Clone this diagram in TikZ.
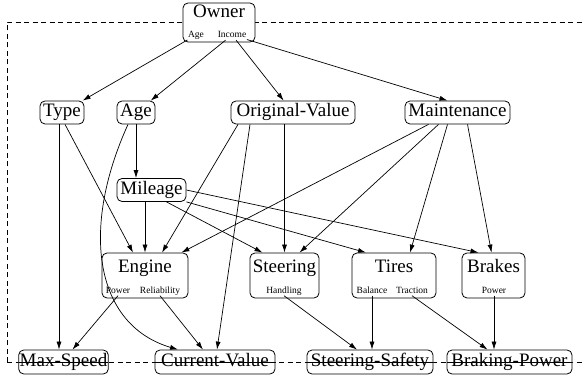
\documentclass[tikz,border=0pt]{standalone}
\usepackage{fontspec}
\setmainfont{Liberation Serif}
\usetikzlibrary{arrows.meta}
\newcommand\bigf{\fontsize{19}{22}\selectfont}
\newcommand\subf{\fontsize{9.5}{11}\selectfont}
\tikzset{
  box/.style={draw, rounded corners=5pt, fill=white, line width=0.8pt},
  var/.style={box, font=\bigf, text height=13pt, text depth=4pt, inner xsep=1pt, inner ysep=3pt, minimum height=23pt},
  dvar/.style={box, minimum height=45pt},
  ttl/.style={font=\bigf, text height=13pt, text depth=4pt, inner sep=0pt},
  sub/.style={font=\subf, text height=7pt, text depth=2pt, inner sep=0.5pt},
  util/.style={var, minimum height=24pt, path picture={\draw[line width=0.8pt] (path picture bounding box.west) -- (path picture bounding box.east);}},
  arr/.style={-{Latex[length=8pt,width=5pt]}, line width=0.7pt},
  frame/.style={dash pattern=on 5pt off 3.5pt, line width=0.8pt}
}
\begin{document}
\begin{tikzpicture}[x=1pt,y=-1pt]
\useasboundingbox (0,0) rectangle (585,379);
% dashed frame
\draw[frame] (7,362) -- (7,22) -- (600,22);
\draw[frame] (7,362) -- (600,362);
% Owner
\node[box, minimum width=72pt, minimum height=39pt] (owner) at (219,22.5) {};
\node[ttl] (ownerT) at (219,13.5) {Owner};
\node[sub] (oAge) at (196,35) {Age};
\node[sub] (oInc) at (232,35) {Income};
% level 1
\node[var, minimum width=44pt] (type) at (62,112.5) {Type};
\node[var, minimum width=38pt] (age) at (136,112.5) {Age};
\node[var, minimum width=124pt] (origv) at (293,112.5) {Original-Value};
\node[var, minimum width=105pt] (maint) at (457.5,112.5) {Maintenance};
\node[var, minimum width=69pt] (mileage) at (151.5,190) {Mileage};
% components
\node[dvar, minimum width=86pt] (engine) at (145,275.5) {};
\node[ttl] (engineT) at (145,267.5) {Engine};
\node[sub] (engP) at (118,290.5) {Power};
\node[sub] (engR) at (160,290.5) {Reliability};
\node[dvar, minimum width=69pt] (steering) at (284.5,275.5) {};
\node[ttl] (steeringT) at (284.5,267.5) {Steering};
\node[sub] (steH) at (284,290.5) {Handling};
\node[dvar, minimum width=84pt] (tires) at (394,275.5) {};
\node[ttl] (tiresT) at (394,267.5) {Tires};
\node[sub] (tirB) at (372,290.5) {Balance};
\node[sub] (tirT) at (412,290.5) {Traction};
\node[dvar, minimum width=63pt] (brakes) at (493.5,275.5) {};
\node[ttl] (brakesT) at (493.5,267.5) {Brakes};
\node[sub] (brkP) at (494,290.5) {Power};
% utilities
\node[util, minimum width=87pt] (maxs) at (63.5,362) {Max-Speed};
\node[util, minimum width=120pt] (curval) at (215,362) {Current-Value};
\node[util, minimum width=126pt] (stsafe) at (370,362) {Steering-Safety};
\node[util, minimum width=125pt] (brpow) at (509.5,362) {Braking-Power};
% edges from owner
\draw[arr] (oAge) -- (type);
\draw[arr] (oInc) -- (age);
\draw[arr] (oInc) -- (origv);
\draw[arr] (oInc) -- ([xshift=-10pt]maint.north);
% type
\draw[arr] ([xshift=-3pt]type.south) -- ([xshift=-4.5pt]maxs.north);
\draw[arr] ([xshift=3pt]type.south) -- ([xshift=-12pt]engine.north);
% age
\draw[arr] (age.south) -- (mileage.north -| age.south);
\draw[arr] ([xshift=-8pt]age.south) .. controls (80,230) and (95,325) .. ([xshift=-37pt]curval.north);
% original value
\draw[arr] ([xshift=-55pt]origv.south) -- ([xshift=17pt]engine.north);
\draw[arr] ([xshift=-43pt]origv.south) -- ([xshift=2pt]curval.north);
\draw[arr] (origv.south -| steering.north) -- (steering.north);
% maintenance
\draw[arr] ([xshift=-29pt]maint.south) -- ([xshift=-7pt]engine.north east);
\draw[arr] ([xshift=-19pt]maint.south) -- ([xshift=15pt]steering.north);
\draw[arr] ([xshift=-10pt]maint.south) -- ([xshift=16pt]tires.north);
\draw[arr] ([xshift=10pt]maint.south) -- ([xshift=-2pt]brakes.north);
% mileage
\draw[arr] (mileage.south -| engine.north) -- (engine.north);
\draw[arr] ([xshift=15pt]mileage.south) -- ([xshift=-22pt]steering.north);
\draw[arr] (mileage.south east) -- ([xshift=-28pt]tires.north);
\draw[arr] (mileage.east) -- ([xshift=-15pt]brakes.north);
% components to utilities
\draw[arr] (engP.south) -- ([xshift=9pt]maxs.north);
\draw[arr] (engR.south) -- ([xshift=-12pt]curval.north);
\draw[arr] (steH.south) -- ([xshift=-13pt]stsafe.north);
\draw[arr] (tirB.south) -- (tirB.south |- stsafe.north);
\draw[arr] (tirT.south) -- ([xshift=-22pt]brpow.north);
\draw[arr] (brkP.south) -- (brkP.south |- brpow.north);
\end{tikzpicture}
\end{document}
